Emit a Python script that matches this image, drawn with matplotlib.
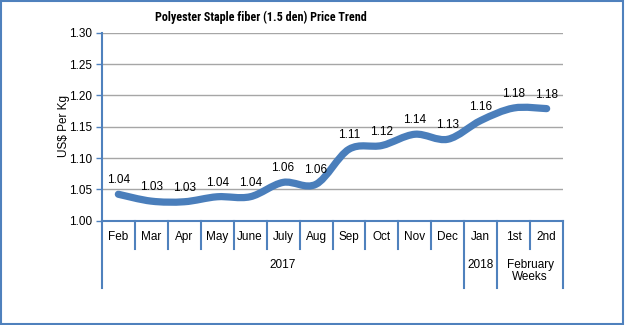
import matplotlib
matplotlib.use("Agg")
from matplotlib import pyplot as plt
from matplotlib.path import Path
from matplotlib.patches import PathPatch, Rectangle
from matplotlib.transforms import blended_transform_factory

plt.rcParams["font.family"] = ["Liberation Sans", "DejaVu Sans"]

months = ["Feb", "Mar", "Apr", "May", "June", "July", "Aug", "Sep",
          "Oct", "Nov", "Dec", "Jan", "1st", "2nd"]
prices = [1.042, 1.031, 1.030, 1.038, 1.038, 1.061, 1.058, 1.114,
          1.120, 1.138, 1.130, 1.160, 1.180, 1.179]
groups = [("2017", 0, 10), ("2018", 11, 11), ("February\nWeeks", 12, 13)]
y_ticks = [1.00, 1.05, 1.10, 1.15, 1.20, 1.25, 1.30]

BLUE = "#4F81BD"
LINE = "#4A7EBB"


def smooth_path(xs, ys):
    pts = list(zip(xs, ys))
    ext = [pts[0]] + pts + [pts[-1]]
    verts = [pts[0]]
    codes = [Path.MOVETO]
    for i in range(len(pts) - 1):
        p0, p1, p2, p3 = ext[i], ext[i + 1], ext[i + 2], ext[i + 3]
        c1 = (p1[0] + (p2[0] - p0[0]) / 6, p1[1] + (p2[1] - p0[1]) / 6)
        c2 = (p2[0] - (p3[0] - p1[0]) / 6, p2[1] - (p3[1] - p1[1]) / 6)
        verts += [c1, c2, p2]
        codes += [Path.CURVE4] * 3
    return Path(verts, codes)


fig = plt.figure(figsize=(6.25, 3.25), dpi=100)
ax = fig.add_axes([0.163, 0.3215, 0.738, 0.577])

x = list(range(len(months)))
ax.add_patch(PathPatch(smooth_path(x, prices), fill=False, edgecolor=LINE,
                       lw=5.2, capstyle="round", joinstyle="round", zorder=3))

for xi, v in zip(x, prices):
    ax.annotate(f"{v:.2f}", (xi, v), xytext=(0, 10), textcoords="offset points",
                ha="center", va="center", fontsize=8.5, zorder=4)

ax.set_xlim(-0.5, len(months) - 0.5)
ax.set_ylim(1.0, 1.3)
ax.set_yticks(y_ticks)
ax.set_yticklabels([f"{t:.2f}" for t in y_ticks], fontsize=8.5)
ax.set_xticks([])
ax.grid(axis="y", color="#A6A6A6", lw=1)
ax.set_axisbelow(True)
ax.tick_params(axis="y", color=BLUE, length=4, width=1, pad=3)

for s in ["top", "right"]:
    ax.spines[s].set_visible(False)
for s in ["left", "bottom"]:
    ax.spines[s].set_color(BLUE)
    ax.spines[s].set_linewidth(1.5)

trans = blended_transform_factory(ax.transData, ax.transAxes)
for xi, m in zip(x, months):
    ax.text(xi, -0.09, m, transform=trans, ha="center", va="center", fontsize=8.5)

long_edges = {-0.5}
for label, start, end in groups:
    long_edges.add(end + 0.5)
    ax.text((start + end) / 2, -0.205, label, transform=trans, ha="center",
            va="top", fontsize=8.5, linespacing=1.0)

for i in range(len(months) + 1):
    edge = i - 0.5
    bottom = -0.36 if edge in long_edges else -0.15
    ax.plot([edge, edge], [0, bottom], transform=trans, color=BLUE, lw=1.5,
            clip_on=False)

fig.text(0.417, 0.947, "Polyester Staple fiber (1.5 den) Price Trend",
         ha="center", va="center", fontsize=8.7, fontweight="bold",
         family=["Roboto Condensed", "Archivo Narrow", "Liberation Sans"])
fig.text(0.103, 0.611, "US$ Per Kg", rotation=90, ha="center", va="center",
         fontsize=8.5)

fig.patches.append(Rectangle((0.002, 0.003), 0.994, 0.994, transform=fig.transFigure,
                             fill=False, edgecolor=BLUE, lw=1.5))

fig.savefig("out.png", dpi=100)
